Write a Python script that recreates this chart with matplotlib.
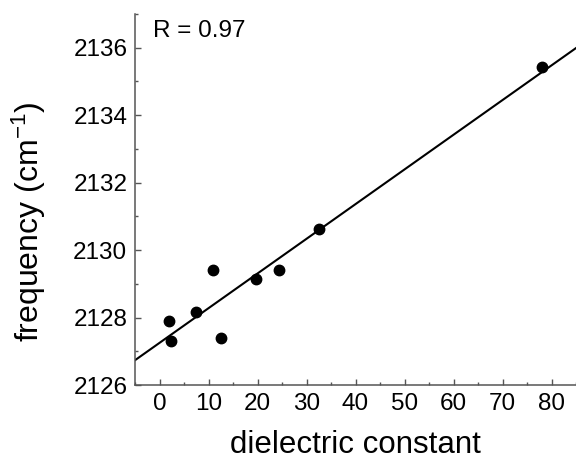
import numpy as np
import matplotlib
matplotlib.use("Agg")
import matplotlib.pyplot as plt
from matplotlib.ticker import MultipleLocator

plt.rcParams['font.family'] = ['Liberation Sans', 'DejaVu Sans']
plt.rcParams['mathtext.fontset'] = 'custom'
plt.rcParams['mathtext.rm'] = 'Liberation Sans'
plt.rcParams['mathtext.it'] = 'Liberation Sans'

# data
dielectric = [2.0, 2.4, 7.4, 10.9, 12.6, 19.7, 24.4, 32.5, 78.0]
frequency = [2127.91, 2127.31, 2128.16, 2129.41, 2127.38, 2129.14, 2129.41, 2130.63, 2135.42]
r_text = "R = 0.97"
x_ticks = [0, 10, 20, 30, 40, 50, 60, 70, 80]
y_ticks = [2126, 2128, 2130, 2132, 2134, 2136]

fig = plt.figure(figsize=(5.76, 4.63), dpi=100)
ax = fig.add_axes([135/576, 1-385/463, 441/576, 371/463])

spine_col = '#555555'
x = np.array(dielectric)
y = np.array(frequency)
slope, intercept = np.polyfit(x, y, 1)
xl = np.array([-5, 85])
ax.plot(xl, slope*xl + intercept, color='black', lw=1.5, zorder=2)
ax.plot(x, y, 'o', color='black', ms=7.5, zorder=3)

ax.set_xlim(-5, 85)
ax.set_ylim(2126, 2137)
ax.set_xticks(x_ticks)
ax.set_yticks(y_ticks)
ax.xaxis.set_minor_locator(MultipleLocator(5))
ax.yaxis.set_minor_locator(MultipleLocator(1))

for s in ['top', 'right']:
    ax.spines[s].set_visible(False)
for s in ['left', 'bottom']:
    ax.spines[s].set_color(spine_col)
    ax.spines[s].set_linewidth(1.1)

ax.tick_params(which='both', direction='in', colors=spine_col, width=1.0, labelcolor='black')
ax.tick_params(which='major', length=4.5, labelsize=17.5, pad=5.5)
ax.tick_params(which='minor', length=2.5)

ax.set_xlabel('dielectric constant', fontsize=22.5)
ax.xaxis.label.set_va('bottom')
ax.xaxis.set_label_coords(0.5, -(460 - 385) / 371)
ax.set_ylabel('frequency (cm$^{\\mathregular{-1}}$)', fontsize=23)
ax.yaxis.set_label_coords(-0.198, 0.44)

ax.text(0.041, 0.938, r_text, transform=ax.transAxes, fontsize=17.5,
        ha='left', va='baseline')

fig.savefig('out.png', dpi=100)
